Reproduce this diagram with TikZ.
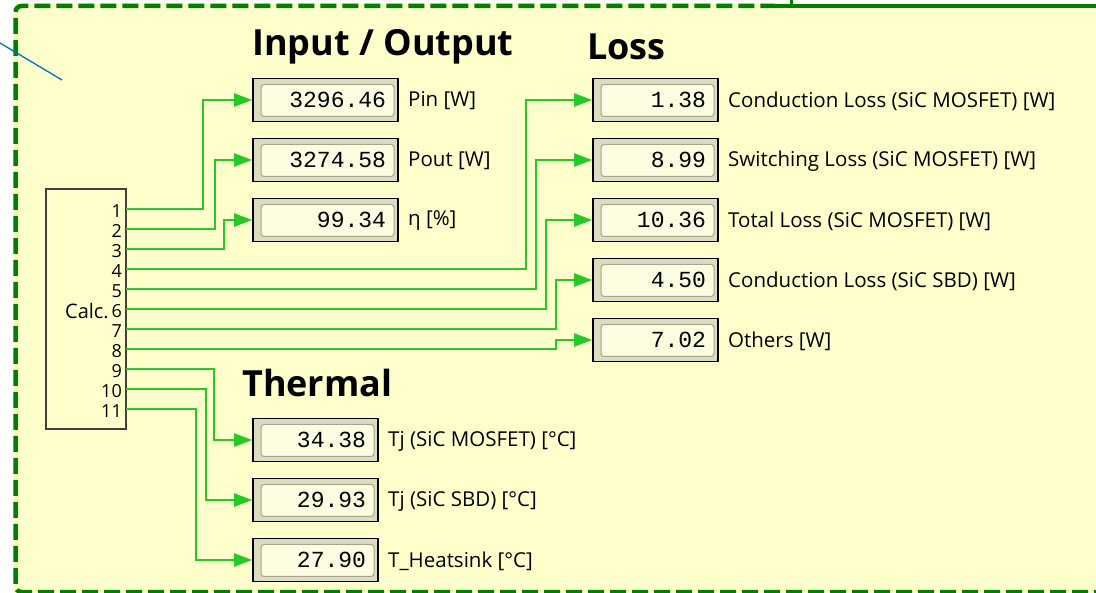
\documentclass[tikz,border=0pt]{standalone}
\usepackage{fontspec}
\setmainfont{Open Sans}
\newfontfamily\monofont{Liberation Mono}
\usepackage{tikz}
\usetikzlibrary{arrows.meta,positioning}

\definecolor{bgyellow}{RGB}{255,255,204}
\definecolor{framegreen}{RGB}{0,128,0}
\definecolor{wiregreen}{RGB}{40,200,40}
\definecolor{dispout}{RGB}{220,220,192}
\definecolor{dispin}{RGB}{252,252,224}
\definecolor{dispedge}{RGB}{165,165,135}
\definecolor{linkblue}{RGB}{0,112,192}

\begin{document}
\begin{tikzpicture}[x=1pt, y=-1pt,
    disp/.style={draw=black, line width=1.6pt, fill=dispout, minimum width=125pt, minimum height=43pt,
      inner sep=0pt, text width=101pt, align=right, font=\monofont\fontsize{23}{26}\selectfont,
      path picture={\draw[dispedge, line width=1pt, fill=dispin, rounded corners=3pt]
        ([xshift=8pt, yshift=-6pt]path picture bounding box.north west) rectangle
        ([xshift=-4pt, yshift=5pt]path picture bounding box.south east);}},
    dispwide/.style={disp, minimum width=145pt, text width=121pt},
    lbl/.style={anchor=west, inner sep=0pt, font=\fontsize{20.5}{24}\selectfont},
    heading/.style={anchor=west, inner sep=0pt, font=\bfseries\fontsize{36}{40}\selectfont},
    portnum/.style={anchor=east, inner sep=0pt, font=\fontsize{18}{20}\selectfont},
    wire/.style={draw=wiregreen, line width=2pt, -{Triangle[length=18pt, width=13pt]}},
    framedash/.style={draw=framegreen, line width=4.5pt, dash pattern=on 16pt off 6pt}
  ]
  \useasboundingbox (0,0) rectangle (1096,593);
  \clip (0,0) rectangle (1096,593);

  % background and frame
  \fill[bgyellow, rounded corners=6pt] (13,3) rectangle (1120,620);
  \draw[framedash, rounded corners=6pt] (1110,592) -| (15.5,6) -- (775,6);
  \draw[framegreen, line width=4.5pt] (775,6) -- (1110,6);
  \draw[framegreen, line width=3pt] (791,0) -- (791,6);
  \coordinate (linkA) at (0,43);
  \coordinate (linkB) at (62,80);
  \draw[linkblue, line width=1.3pt] (linkA) -- (linkB);

  % calc block
  \node[draw=black!75, line width=1.5pt, fill=bgyellow, minimum width=80pt, minimum height=240pt] (calc) at (86,309) {};
  \node[anchor=east, inner sep=0pt, font=\fontsize{20}{22}\selectfont] (calctxt) at (109,311) {Calc.};
  \foreach \i in {1,...,11} {
    \coordinate (p\i) at (126,{189+20*\i});
    \node[portnum] (n\i) at (122,{191+20*\i}) {\i};
  }

  % headings
  \node[heading] (hio) at (252,47) {Input / Output};
  \node[heading] (hloss) at (587,47) {Loss};
  \node[heading] (htherm) at (242,383) {Thermal};

  % input / output
  \node[dispwide] (pin) at (325.5,100) {3296.46};
  \node[dispwide] (pout) at (325.5,160) {3274.58};
  \node[dispwide] (eta) at (325.5,220) {99.34};
  \node[lbl] (pinl) at (408,101) {Pin [W]};
  \node[lbl] (poutl) at (408,161) {Pout [W]};
  \node[lbl] (etal) at (408,221) {η [\%]};

  % loss
  \node[disp] (condm) at (655.5,100) {1.38};
  \node[disp] (swm) at (655.5,160) {8.99};
  \node[disp] (totm) at (655.5,220) {10.36};
  \node[disp] (conds) at (655.5,280) {4.50};
  \node[disp] (oth) at (655.5,340) {7.02};
  \node[lbl] (condml) at (728,101) {Conduction Loss (SiC MOSFET) [W]};
  \node[lbl] (swml) at (728,161) {Switching Loss (SiC MOSFET) [W]};
  \node[lbl] (totml) at (728,221) {Total Loss (SiC MOSFET) [W]};
  \node[lbl] (condsl) at (728,281) {Conduction Loss (SiC SBD) [W]};
  \node[lbl] (othl) at (728,341) {Others [W]};

  % thermal
  \node[disp] (tjm) at (315.5,440) {34.38};
  \node[disp] (tjs) at (315.5,500) {29.93};
  \node[disp] (ths) at (315.5,560) {27.90};
  \node[lbl] (tjml) at (388,441) {Tj (SiC MOSFET) [°C]};
  \node[lbl] (tjsl) at (388,501) {Tj (SiC SBD) [°C]};
  \node[lbl] (thsl) at (388,561) {T\_Heatsink [°C]};

  % wires
  \draw[wire] (p1) -- ++(77,0) |- (pin);
  \draw[wire] (p2) -- ++(89,0) |- (pout);
  \draw[wire] (p3) -- ++(98,0) |- (eta);
  \draw[wire] (p4) -- ++(400,0) |- (condm);
  \draw[wire] (p5) -- ++(410,0) |- (swm);
  \draw[wire] (p6) -- ++(420,0) |- (totm);
  \draw[wire] (p7) -- ++(430,0) |- (conds);
  \draw[wire] (p8) -- ++(430,0) |- (oth);
  \draw[wire] (p9) -- ++(88,0) |- (tjm);
  \draw[wire] (p10) -- ++(80,0) |- (tjs);
  \draw[wire] (p11) -- ++(70,0) |- (ths);
\end{tikzpicture}
\end{document}
